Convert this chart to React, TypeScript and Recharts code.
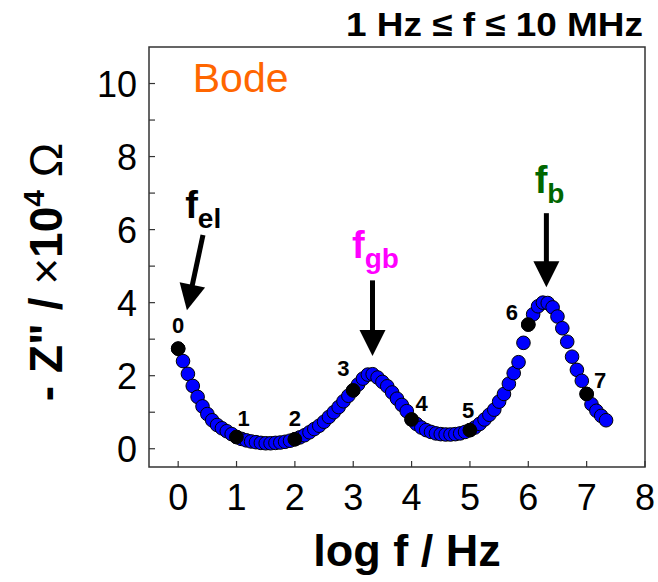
import {
  ScatterChart, Scatter, XAxis, YAxis,
  ReferenceArea, ReferenceLine, ReferenceDot,
} from "recharts";

// log10 of the measuring frequency (12 points per decade)
const LOG_F = [
  0, 0.083, 0.167, 0.25, 0.333, 0.417, 0.5, 0.583, 0.667, 0.75, 0.833, 0.917,
  1, 1.083, 1.167, 1.25, 1.333, 1.417, 1.5, 1.583, 1.667, 1.75, 1.833, 1.917,
  2, 2.083, 2.167, 2.25, 2.333, 2.417, 2.5, 2.583, 2.667, 2.75, 2.833, 2.917,
  3, 3.083, 3.167, 3.25, 3.333, 3.417, 3.5, 3.583, 3.667, 3.75, 3.833, 3.917,
  4, 4.083, 4.167, 4.25, 4.333, 4.417, 4.5, 4.583, 4.667, 4.75, 4.833, 4.917,
  5, 5.083, 5.167, 5.25, 5.333, 5.417, 5.5, 5.583, 5.667, 5.75, 5.833, 5.917,
  6, 6.083, 6.167, 6.25, 6.333, 6.417, 6.5, 6.583, 6.667, 6.75, 6.833, 6.917,
  7, 7.083, 7.167, 7.25, 7.333,
];

// -Z'' in units of 10^4 ohm
const Z_IM = [
  2.74, 2.40, 2.05, 1.72, 1.42, 1.16, 0.95, 0.78, 0.65, 0.56, 0.48, 0.40,
  0.32, 0.27, 0.23, 0.20, 0.18, 0.16, 0.15, 0.15, 0.16, 0.17, 0.19, 0.22,
  0.26, 0.31, 0.37, 0.45, 0.54, 0.63, 0.74, 0.87, 1.00, 1.14, 1.30, 1.45,
  1.60, 1.76, 1.92, 2.03, 2.04, 1.95, 1.83, 1.71, 1.54, 1.37, 1.20, 1.03,
  0.80, 0.68, 0.58, 0.51, 0.46, 0.42, 0.40, 0.39, 0.39, 0.40, 0.42, 0.46,
  0.51, 0.58, 0.68, 0.80, 0.93, 1.07, 1.29, 1.50, 1.78, 2.07, 2.37, 2.90,
  3.40, 3.68, 3.90, 4.00, 3.99, 3.87, 3.62, 3.30, 2.93, 2.52, 2.16, 1.86,
  1.50, 1.22, 1.04, 0.90, 0.78,
];

const X_TICKS = [0, 1, 2, 3, 4, 5, 6, 7, 8];
const Y_TICKS = [0, 1, 2, 3, 4, 5, 6, 7, 8, 9, 10];

// decade numbers written next to the black points
const DECADE_TAGS = [
  { text: "0", f: 0.0, z: 3.38 },
  { text: "1", f: 1.12, z: 0.83 },
  { text: "2", f: 2.0, z: 0.83 },
  { text: "3", f: 2.83, z: 2.2 },
  { text: "4", f: 4.17, z: 1.24 },
  { text: "5", f: 4.97, z: 1.05 },
  { text: "6", f: 5.72, z: 3.75 },
  { text: "7", f: 7.23, z: 1.88 },
];

// relaxation frequency markers
const PEAK_NAMES = [
  { sub: "el", f: 0.12, z: 6.31, color: "#000000" },
  { sub: "gb", f: 2.98, z: 5.22, color: "#ff00ff" },
  { sub: "b", f: 6.11, z: 7.0, color: "#006600" },
];

const ARROWS = [
  { f1: 0.425, z1: 5.85, f2: 0.15, z2: 3.79 },
  { f1: 3.33, z1: 4.61, f2: 3.33, z2: 2.54 },
  { f1: 6.31, z1: 6.45, f2: 6.31, z2: 4.42 },
];

const FONT = '"Liberation Sans", Arial, Helvetica, sans-serif';
const FRAME = "#333333";

const points = LOG_F.map((f, i) => ({ f, z: Z_IM[i] }));
// whole decades (1 Hz, 10 Hz, ...) are drawn black on top of the others
const decadePoints = points.filter((p) => Number.isInteger(p.f));

const dot = (fill: string) => (props: any) => (
  <circle cx={props.cx} cy={props.cy} r={6.8} fill={fill} stroke="#000000" strokeWidth={1} />
);

const XTick = ({ x, y, payload }: any) => (
  <g>
    <line x1={x} y1={y} x2={x} y2={y - 6} stroke={FRAME} strokeWidth={1.2} />
    <text x={x} y={y + 43} textAnchor="middle" fontSize={36} fill="#000" fontFamily={FONT}>
      {payload.value}
    </text>
  </g>
);

const YTick = ({ x, y, payload }: any) => (
  <g>
    <line x1={x} y1={y} x2={x + 6} y2={y} stroke={FRAME} strokeWidth={1.2} />
    {payload.value % 2 === 0 && (
      <text x={x - 12} y={y + 13} textAnchor="end" fontSize={36} fill="#000" fontFamily={FONT}>
        {payload.value}
      </text>
    )}
  </g>
);

const XTitle = () => (
  <text x={407} y={566} textAnchor="middle" fontSize={45} fontWeight="bold" fontFamily={FONT}>
    log f / Hz
  </text>
);

const YTitle = () => (
  <text transform="translate(62, 272) rotate(-90)" textAnchor="middle"
    fontSize={46} fontFamily={FONT} fill="#000">
    <tspan fontWeight="bold">- Z" / </tspan>
    <tspan>×</tspan>
    <tspan fontWeight="bold">10</tspan>
    <tspan fontWeight="bold" fontSize={30} dy={-18}>4</tspan>
    <tspan dy={18}> Ω</tspan>
  </text>
);

const Arrow = (props: any) => {
  const { x1, y1, x2, y2 } = props;
  if ([x1, y1, x2, y2].some((v) => typeof v !== "number")) return null;
  const len = Math.hypot(x2 - x1, y2 - y1);
  const ux = (x2 - x1) / len;
  const uy = (y2 - y1) / len;
  const head = 26;
  const half = 13;
  const bx = x2 - ux * head;
  const by = y2 - uy * head;
  return (
    <g>
      <line x1={x1} y1={y1} x2={bx + ux * 2} y2={by + uy * 2} stroke="#000" strokeWidth={5} />
      <polygon
        points={`${x2},${y2} ${bx - uy * half},${by + ux * half} ${bx + uy * half},${by - ux * half}`}
        fill="#000"
      />
    </g>
  );
};

const tagShape = (text: string) => (p: any) => (
  <text x={p.cx} y={p.cy + 8} textAnchor="middle" fontSize={22} fontWeight="bold"
    fontFamily={FONT} fill="#000">
    {text}
  </text>
);

const peakShape = (sub: string, color: string) => (p: any) => (
  <text x={p.cx} y={p.cy} fontSize={38} fontWeight="bold" fontFamily={FONT} fill={color}>
    f<tspan fontSize={28} dy={10}>{sub}</tspan>
  </text>
);

const bodeShape = (p: any) => (
  <text x={p.cx} y={p.cy} fontSize={41} fontFamily={FONT} fill="#ff6600">
    Bode
  </text>
);

export default function App() {
  return (
    <div style={{ position: "absolute", left: 0, top: 0, width: 658, height: 582, background: "#fff" }}>
      <ScatterChart width={658} height={582} margin={{ top: 47, right: 13, bottom: 0, left: 0 }}>
        <XAxis
          type="number" dataKey="f" domain={[-0.5, 8]} ticks={X_TICKS}
          height={115} axisLine={false} tickLine={false} tickSize={0} tickMargin={0}
          tick={<XTick />} interval={0} allowDataOverflow
          label={<XTitle />}
        />
        <YAxis
          type="number" dataKey="z" domain={[-0.5, 11]} ticks={Y_TICKS}
          width={149} axisLine={false} tickLine={false} tickSize={0} tickMargin={0}
          tick={<YTick />} interval={0} allowDataOverflow
          label={<YTitle />}
        />
        <ReferenceArea x1={-0.5} x2={8} y1={-0.5} y2={11} fill="none"
          stroke={FRAME} strokeWidth={1.5} ifOverflow="visible" />
        {ARROWS.map((a, i) => (
          <ReferenceLine key={`a${i}`} segment={[{ x: a.f1, y: a.z1 }, { x: a.f2, y: a.z2 }]}
            shape={<Arrow />} ifOverflow="visible" />
        ))}
        <Scatter data={points} isAnimationActive={false} shape={dot("#0000ff")} />
        <Scatter data={decadePoints} isAnimationActive={false} shape={dot("#000000")} />
        {DECADE_TAGS.map((t) => (
          <ReferenceDot key={`t${t.text}`} x={t.f} y={t.z} r={0} shape={tagShape(t.text)} />
        ))}
        {PEAK_NAMES.map((p) => (
          <ReferenceDot key={`p${p.sub}`} x={p.f} y={p.z} r={0} shape={peakShape(p.sub, p.color)} />
        ))}
        <ReferenceDot x={0.25} y={9.76} r={0} shape={bodeShape} />
      </ScatterChart>
      <svg width={658} height={60} style={{ position: "absolute", left: 0, top: 0, pointerEvents: "none" }}>
        <text x={643} y={36} textAnchor="end" fontSize={34} fontWeight="bold" fontFamily={FONT}
          textLength={297} lengthAdjust="spacingAndGlyphs">
          1 Hz ≤ f ≤ 10 MHz
        </text>
      </svg>
    </div>
  );
}
